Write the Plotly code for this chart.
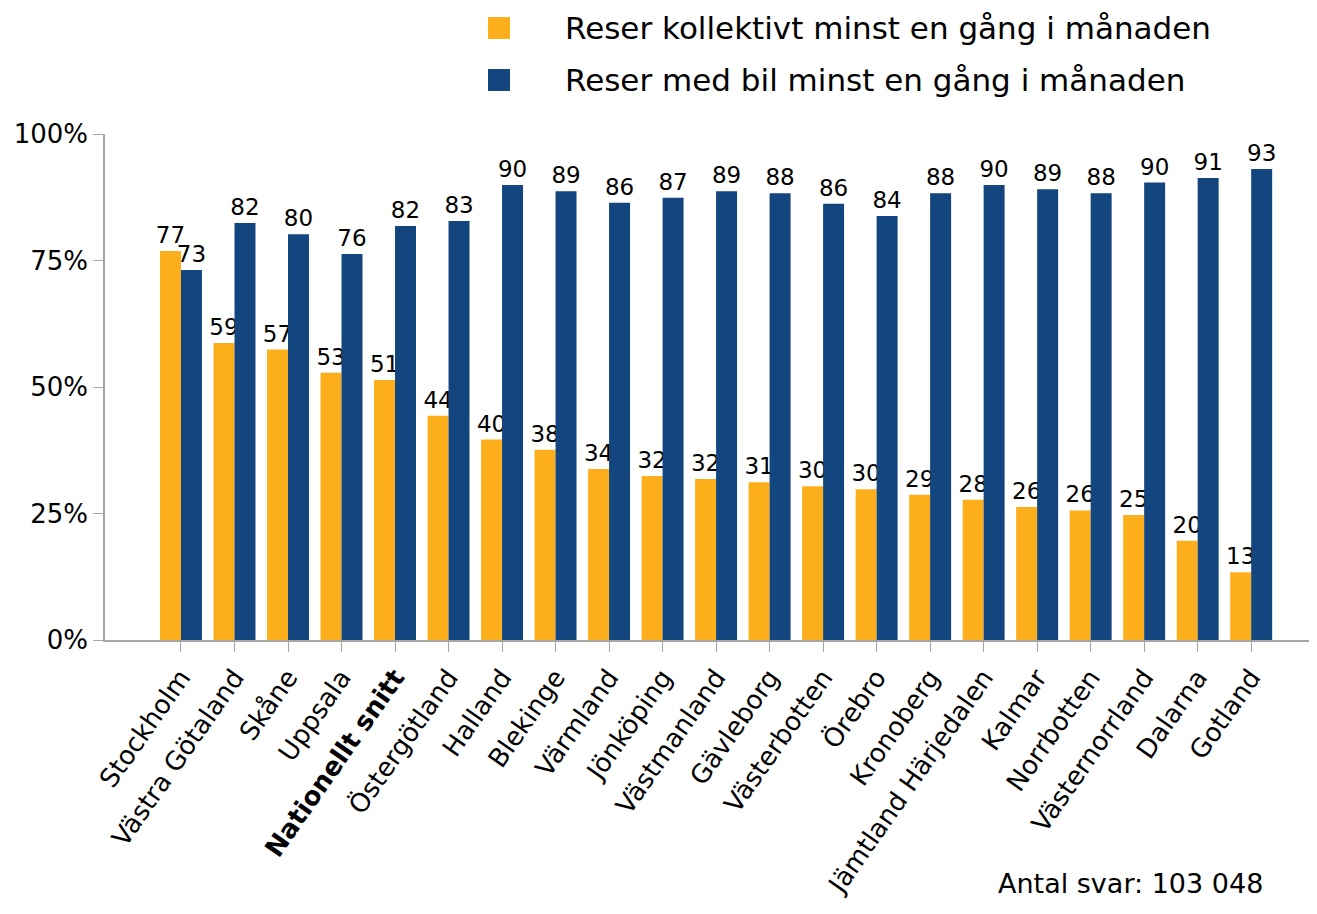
import plotly.graph_objects as go

# categories (counties + national average)
regions = ["Stockholm", "Västra Götaland", "Skåne", "Uppsala", "Nationellt snitt",
           "Östergötland", "Halland", "Blekinge", "Värmland", "Jönköping", "Västmanland",
           "Gävleborg", "Västerbotten", "Örebro", "Kronoberg", "Jämtland Härjedalen",
           "Kalmar", "Norrbotten", "Västernorrland", "Dalarna", "Gotland"]

# share travelling by public transport at least once a month (%)
kollektivt = [76.9, 58.7, 57.4, 52.8, 51.4, 44.3, 39.6, 37.6, 33.8, 32.4, 31.8,
              31.2, 30.4, 29.8, 28.7, 27.7, 26.3, 25.6, 24.7, 19.6, 13.4]
# share travelling by car at least once a month (%)
bil = [73.1, 82.4, 80.2, 76.3, 81.8, 82.8, 89.9, 88.7, 86.4, 87.4, 88.7,
       88.3, 86.2, 83.8, 88.3, 89.9, 89.1, 88.3, 90.4, 91.3, 93.1]

series_names = ["Reser kollektivt minst en gång i månaden",
                "Reser med bil minst en gång i månaden"]
colors = ["#FDAF1B", "#13457E"]

y_ticks = [0, 25, 50, 75, 100]
y_ticktext = ["0%", "25%", "50%", "75%", "100%"]
n_answers = "Antal svar: 103 048"

FONT = "DejaVu Sans"
# page body has an 8px margin, so the figure is laid out 8px in from the window corner
W, H = 1309, 906
L, T, B = 97, 126, 274
PH = H - T - B  # plot height in px


def px_x(x):
    return (x - L) / (W - L)


def px_y(y):
    return 1 - (y - T) / PH


tick_labels = ["<b>%s</b>" % r if r == "Nationellt snitt" else r for r in regions]
x_idx = list(range(len(regions)))

fig = go.Figure()
for vals, name, col in zip([kollektivt, bil], series_names, colors):
    fig.add_trace(go.Bar(
        x=x_idx, y=vals, name=name, marker_color=col, marker_line_width=0,
        texttemplate="%{y:.0f}", textposition="outside", cliponaxis=False,
        constraintext="none", textfont=dict(family=FONT, size=23, color="black"),
        showlegend=False,
    ))

# legend drawn by hand so the swatch size and text gap match
for i, (name, col) in enumerate(zip(series_names, colors)):
    yc = 20 + i * 52
    fig.add_shape(type="rect", xref="paper", yref="paper",
                  x0=px_x(480), x1=px_x(502), y0=px_y(yc + 11), y1=px_y(yc - 11),
                  fillcolor=col, line_width=0)
    fig.add_annotation(text=name, xref="paper", yref="paper",
                       x=px_x(555), y=px_y(yc), xanchor="left", yanchor="middle",
                       showarrow=False, font=dict(family=FONT, size=31, color="black"))

fig.add_annotation(text=n_answers, xref="paper", yref="paper",
                   x=px_x(1257), y=px_y(875), xanchor="right", yanchor="middle",
                   showarrow=False, font=dict(family=FONT, size=27, color="black"))

fig.update_layout(
    width=W, height=H,
    margin=dict(l=L, r=0, t=T, b=B, autoexpand=False),
    paper_bgcolor="white", plot_bgcolor="white",
    barmode="group", bargap=0.216, bargroupgap=0,
    font=dict(family=FONT, size=23, color="black"),
)
fig.update_xaxes(
    range=[-1.42, 21.23], tickvals=x_idx, ticktext=tick_labels, tickangle=-55,
    showline=True, linecolor="#a6a6a6", linewidth=1.5, ticks="outside",
    ticklen=10, tickcolor="#a6a6a6", showgrid=False, zeroline=False,
    tickfont=dict(family=FONT, size=26, color="black"),
)
fig.update_yaxes(
    range=[0, 100], tickvals=y_ticks, ticktext=y_ticktext,
    showline=True, linecolor="#a6a6a6", linewidth=1.5, ticks="outside",
    ticklen=10, tickcolor="#a6a6a6", showgrid=False, zeroline=False,
    tickfont=dict(family=FONT, size=26, color="black"),
)

fig.write_html("out.html")
